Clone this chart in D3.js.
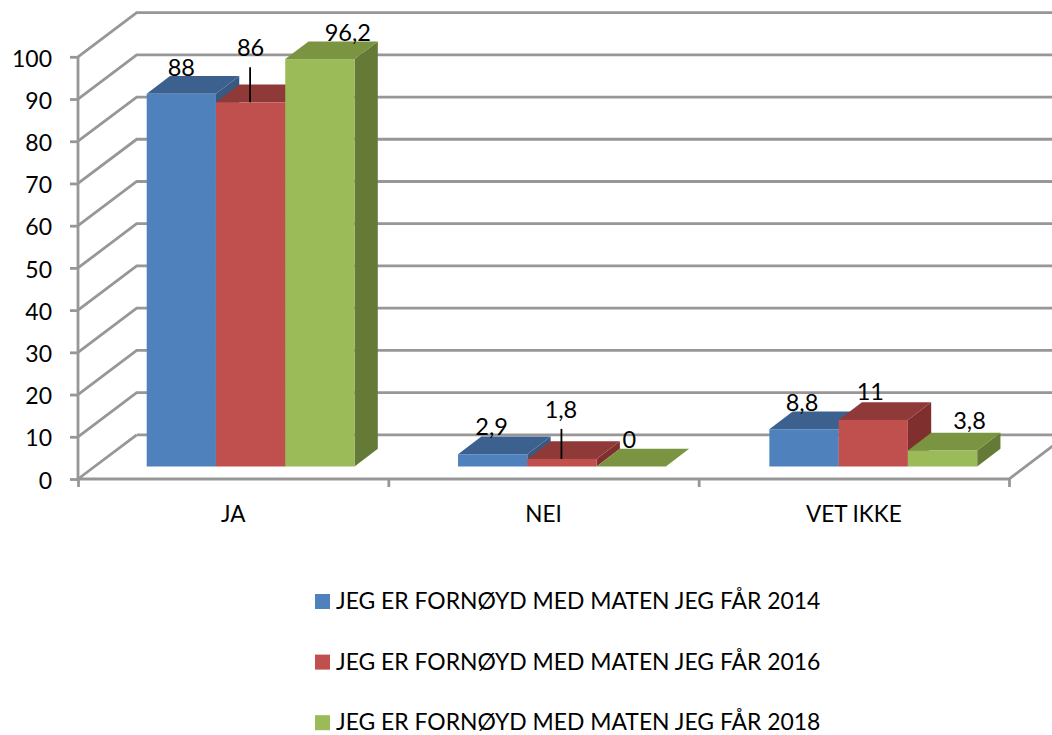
<!DOCTYPE html>
<html><head><meta charset="utf-8">
<script src="https://cdnjs.cloudflare.com/ajax/libs/d3/7.8.5/d3.min.js"></script>
<style>html,body{margin:0;padding:0;background:#fff}svg{display:block}text{font-family:Lato,"Open Sans",sans-serif;fill:#000}</style>
</head><body><svg id="c" width="1052" height="735"></svg>
<script>
const categories = ["JA","NEI","VET IKKE"];
const seriesNames = ["JEG ER FORNØYD MED MATEN JEG FÅR 2014","JEG ER FORNØYD MED MATEN JEG FÅR 2016","JEG ER FORNØYD MED MATEN JEG FÅR 2018"];
const values2014 = [88,2.9,8.8];
const values2016 = [86,1.8,11];
const values2018 = [96.2,0,3.8];
const labels2014 = ["88","2,9","8,8"];
const labels2016 = ["86","1,8","11"];
const labels2018 = ["96,2","0","3,8"];
const yTicks = [0,10,20,30,40,50,60,70,80,90,100];

const frontColors = ["#4F81BD","#C0504D","#9BBB59"];
const topColors = ["#3C618F","#8F3A38","#7A9441"];
const sideColors = ["#375A85","#7F302E","#667A37"];

// layout
const svg = d3.select("#c");
const axisColor = "#979797";
const axisWidth = 2.8;
const depth = {x:58.7,y:-44.2};
const barDepth = {x:23.3,y:-17.7};
const xFront = d3.scaleLinear().domain([0,3]).range([78,1009]);
const yFront = d3.scaleLinear().domain([0,100]).range([479,56.8]);
const yBar = d3.scaleLinear().domain([0,100]).range([466.5,43]);
const x0 = d3.scaleBand().domain(categories).range([78,1009]);
const xBars = d3.scaleBand().domain(categories).range([78,1012]);
const x1 = d3.scaleBand().domain([0,1,2]).range([68.7,276.5]);
// label nudges per series, per category [dx, dy above top]
const labelDx = [[0,-1,-2],[0,-1,-3],[28,-2,27]];
const labelDy = [[18,19,18.5],[46,41,20],[18,18.5,21]];
const leaders = [[1,0],[1,1]];
const allValues = [values2014,values2016,values2018];
const allLabels = [labels2014,labels2016,labels2018];

// walls: gridlines
const grid = svg.append("g").attr("fill","none").attr("stroke",axisColor).attr("stroke-width",axisWidth);
yTicks.forEach(t=>{
  const y=yFront(t);
  if(t>0) grid.append("path").attr("d",d3.line()([[78,y],[78+depth.x,y+depth.y],[1052,y+depth.y]]));
});
// floor
grid.append("path").attr("d",d3.line()([[136.7,yFront(0)+depth.y],[78,yFront(0)],[1009,yFront(0)],[1009+58.7,yFront(0)+depth.y]]));
grid.append("path").attr("d",d3.line()([[136.7,yFront(0)+depth.y],[1052,yFront(0)+depth.y]]));
// axis
grid.append("path").attr("d",d3.line()([[78,yFront(100)],[78,yFront(0)]]));
const axisY = d3.axisLeft(yFront).tickValues(yTicks).tickSize(8).tickPadding(18).tickFormat(d3.format("d"));
const gy = svg.append("g").attr("transform","translate(78,0)").call(axisY);
gy.select(".domain").remove();
gy.selectAll("line").attr("stroke",axisColor).attr("stroke-width",axisWidth);
gy.selectAll("text").attr("font-size",23).attr("font-family","Lato").attr("fill","#000").attr("dy","0.4em");
const axisX = d3.axisBottom(xFront).tickValues([0,1,2,3]).tickSize(8).tickFormat("");
const gx = svg.append("g").attr("transform","translate(0,479)").call(axisX);
gx.select(".domain").remove();
gx.selectAll("line").attr("stroke",axisColor).attr("stroke-width",axisWidth);
svg.append("g").selectAll("text").data(categories).join("text")
  .attr("x",d=>x0(d)+x0.bandwidth()/2).attr("y",521.5).attr("text-anchor","middle").attr("font-size",22.5).text(d=>d);

// bars
const gb = svg.append("g");
const pt = (a)=>d3.line()(a)+"Z";
categories.forEach((c,ci)=>{
  allValues.forEach((vals,si)=>{
    const left=xBars(c)+x1(si), w=x1.bandwidth(), yb=yBar(0), yt=yBar(vals[ci]);
    const g=gb.append("g");
    g.append("path").attr("fill",sideColors[si]).attr("d",pt([[left+w,yb],[left+w+barDepth.x,yb+barDepth.y],[left+w+barDepth.x,yt+barDepth.y],[left+w,yt]]));
    g.append("path").attr("fill",topColors[si]).attr("d",pt([[left,yt],[left+barDepth.x,yt+barDepth.y],[left+w+barDepth.x,yt+barDepth.y],[left+w,yt]]));
    g.append("rect").attr("fill",frontColors[si]).attr("x",left).attr("y",yt).attr("width",w).attr("height",yb-yt);
  });
});
// labels
const gl = svg.append("g");
categories.forEach((c,ci)=>{
  allValues.forEach((vals,si)=>{
    const cx=xBars(c)+x1(si)+x1.bandwidth()/2, yt=yBar(vals[ci]);
    gl.append("text").attr("x",cx+labelDx[si][ci]).attr("y",yt-labelDy[si][ci]).attr("text-anchor","middle").attr("font-size",23.5).text(allLabels[si][ci]);
  });
});
leaders.forEach(([si,ci])=>{
  const c=categories[ci], cx=xBars(c)+x1(si)+x1.bandwidth()/2-0.5, yt=yBar(allValues[si][ci]);
  gl.append("line").attr("x1",cx).attr("x2",cx).attr("y1",yt-labelDy[si][ci]+11).attr("y2",yt).attr("stroke","#000").attr("stroke-width",1.8);
});
// legend
const lg = svg.append("g").selectAll("g").data(seriesNames).join("g").attr("transform",(d,i)=>`translate(315,${594+i*60.6})`);
lg.append("rect").attr("width",15).attr("height",15).attr("fill",(d,i)=>frontColors[i]);
lg.append("text").attr("x",21).attr("y",15).attr("font-size",22.9).text(d=>d);
</script></body></html>
